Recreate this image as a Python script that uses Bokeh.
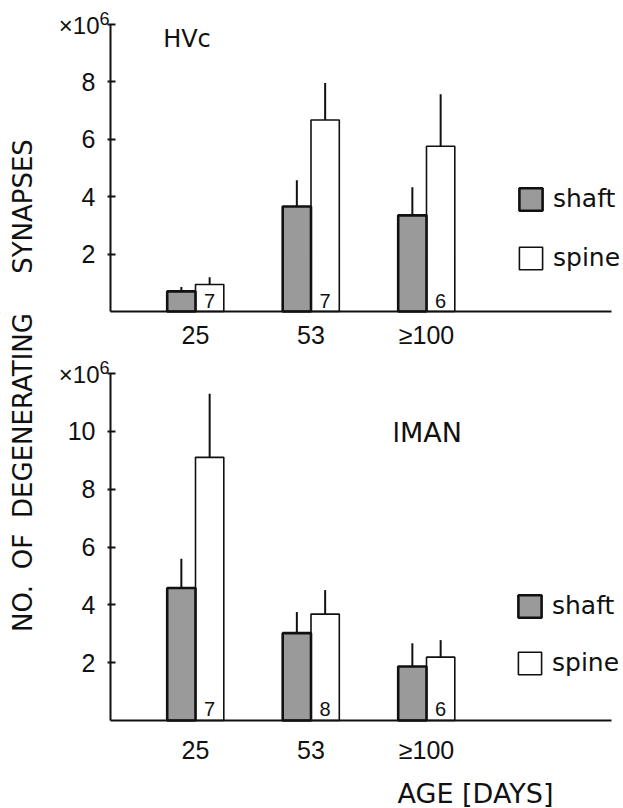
import numpy as np
from bokeh.plotting import figure
from bokeh.layouts import row, column
from bokeh.models import Range1d, FixedTicker, Label, Legend, LegendItem, ColumnDataSource
from bokeh.core.properties import value
from bokeh.embed import file_html
from bokeh.resources import INLINE

# ---------------- data (values in units of 10^6) ----------------
ages = ["25", "53", "≥100"]

hvc_shaft = [0.70, 3.66, 3.35]
hvc_shaft_err = [0.15, 0.91, 0.98]
hvc_spine = [0.94, 6.67, 5.76]
hvc_spine_err = [0.25, 1.29, 1.81]
hvc_n = ["7", "7", "6"]

lman_shaft = [4.58, 3.02, 1.87]
lman_shaft_err = [1.01, 0.73, 0.80]
lman_spine = [9.10, 3.68, 2.19]
lman_spine_err = [2.20, 0.83, 0.59]
lman_n = ["7", "8", "6"]

hvc_yticks = [2, 4, 6, 8, 10]
lman_yticks = [2, 4, 6, 8, 10, 12]

ylabel_words = ["NO.", "OF", "DEGENERATING", "SYNAPSES"]

# ---------------- style / layout ----------------
WORD = "DejaVu Sans"
NUM = "Liberation Sans"
INK = "#111111"
SHAFT_FILL = "#9a9a9a"
BAR_W = 0.245
LEFT_W = 45            # width of the strip holding the rotated y title
PANEL_W = 623 - LEFT_W
PX_X = 115.5           # pixels per category
CAT1_PX = 195          # page x of first category centre
YAX_PX = 110           # page x of the y axis line
XEND_PX = 611          # page x where the x axis line stops

X_START = 1 - (CAT1_PX - LEFT_W) / PX_X
X_END = X_START + PANEL_W / PX_X
YAX = 1 - (CAT1_PX - YAX_PX) / PX_X
AXIS_END = 1 + (XEND_PX - CAT1_PX) / PX_X


def panel(name, shaft, shaft_err, spine, spine_err, n, yticks, ymax,
          top_px, bottom_px, zero_px, ymax_px, x_standoff, name_xy, name_size,
          legend_px, legend_spacing, n_offset):
    height = bottom_px - top_px
    ppu = (zero_px - ymax_px) / ymax
    y_start = -(bottom_px - zero_px) / ppu
    y_end = (zero_px - top_px) / ppu
    p = figure(width=PANEL_W, height=height, x_range=Range1d(X_START, X_END),
               y_range=Range1d(y_start, y_end), output_backend="svg",
               toolbar_location=None, min_border=0)
    p.outline_line_color = None
    p.grid.visible = False

    pos = np.arange(1, len(ages) + 1)
    src = ColumnDataSource(dict(
        xs=pos - BAR_W / 2, xp=pos + BAR_W / 2,
        shaft=shaft, shaft_top=np.add(shaft, shaft_err),
        spine=spine, spine_top=np.add(spine, spine_err), n=n))

    r_spine = p.vbar(x="xp", top="spine", bottom=0, width=BAR_W, source=src,
                     fill_color="white", line_color=INK, line_width=1.6)
    r_shaft = p.vbar(x="xs", top="shaft", bottom=0, width=BAR_W, source=src,
                     fill_color=SHAFT_FILL, line_color=INK, line_width=2.6)
    p.segment(x0="xs", y0="shaft", x1="xs", y1="shaft_top", source=src,
              line_color=INK, line_width=2)
    p.segment(x0="xp", y0="spine", x1="xp", y1="spine_top", source=src,
              line_color=INK, line_width=2)
    p.text(x="xp", y=0, text="n", source=src, text_font=value(NUM),
           text_font_size="20px", text_align="center", text_baseline="bottom",
           y_offset=n_offset, text_color=INK)

    # x axis (drawn at y = 0 inside the frame)
    xa = p.xaxis[0]
    xa.fixed_location = 0
    xa.ticker = FixedTicker(ticks=[float(v) for v in pos])
    xa.major_label_overrides = {float(v): a for v, a in zip(pos, ages)}
    xa.bounds = (YAX, AXIS_END)
    xa.axis_line_width = 2
    xa.axis_line_color = INK
    xa.major_tick_in = 0
    xa.major_tick_out = 0
    xa.minor_tick_line_color = None
    xa.major_label_standoff = x_standoff
    xa.major_label_text_font = NUM
    xa.major_label_text_font_size = "25px"
    xa.major_label_text_color = INK

    # y axis (drawn at x = YAX inside the frame)
    ya = p.yaxis[0]
    ya.fixed_location = YAX
    ya.ticker = FixedTicker(ticks=yticks)
    ya.major_label_overrides = {ymax: ""}
    ya.bounds = (0, ymax)
    ya.axis_line_width = 2
    ya.axis_line_color = INK
    ya.major_tick_in = 5
    ya.major_tick_out = 3
    ya.major_tick_line_width = 2
    ya.major_tick_line_color = INK
    ya.minor_tick_line_color = None
    ya.major_label_standoff = 12
    ya.major_label_text_font = NUM
    ya.major_label_text_font_size = "25px"
    ya.major_label_text_color = INK

    # multiplier  x10^6
    p.add_layout(Label(x=YAX, y=ymax, x_offset=-11, y_offset=-1, text="×10",
                       text_align="right", text_baseline="alphabetic",
                       text_font=NUM, text_font_size="24px", text_color=INK))
    p.add_layout(Label(x=YAX, y=ymax, x_offset=-1, y_offset=6, text="6",
                       text_align="right", text_baseline="alphabetic",
                       text_font=NUM, text_font_size="18px", text_color=INK))
    # region name
    p.add_layout(Label(x=name_xy[0], y=name_xy[1], text=name,
                       text_align="left", text_baseline="alphabetic",
                       text_font=WORD, text_font_size=name_size, text_color=INK))

    legend = Legend(items=[LegendItem(label="shaft", renderers=[r_shaft]),
                           LegendItem(label="spine", renderers=[r_spine])],
                    location=(legend_px[0] - LEFT_W, bottom_px - legend_px[1]),
                    orientation="vertical",
                    spacing=legend_spacing, padding=0, margin=0,
                    border_line_color=None, background_fill_alpha=0,
                    glyph_width=29, glyph_height=28, label_standoff=8,
                    label_height=28, label_text_font=WORD,
                    label_text_font_size="25px", label_text_color=INK)
    p.add_layout(legend)
    return p


top = panel("HVc", hvc_shaft, hvc_shaft_err, hvc_spine, hvc_spine_err, hvc_n,
            hvc_yticks, 10, 0, 353, 311, 24, 9, (0.72, 9.51), "24px",
            (516, 272), 30, -4)
bottom = panel("lMAN", lman_shaft, lman_shaft_err, lman_spine, lman_spine_err,
               lman_n, lman_yticks, 12, 353, 808, 720, 373, 15, (2.705, 9.96),
               "27px", (515, 677), 28, -5)
bottom.add_layout(Label(x=2.749, y=0, y_offset=-73, text="AGE [DAYS]",
                        text_align="left", text_baseline="alphabetic",
                        text_font=WORD, text_font_size="27px", text_color=INK))

# shared rotated y-axis title
lab = figure(width=LEFT_W, height=808, x_range=Range1d(0, LEFT_W),
             y_range=Range1d(808, 0), output_backend="svg",
             toolbar_location=None, min_border=0,
             x_axis_location=None, y_axis_location=None)
lab.outline_line_color = None
lab.grid.visible = False
lab.text(x=[22] * 4, y=[608, 551, 415, 206], text=ylabel_words, angle=np.pi / 2,
         text_align="center", text_baseline="middle", text_font=value(WORD),
         text_font_size="26px", text_color=INK)

layout = row(lab, column(top, bottom))
open("out.html", "w").write(file_html(layout, INLINE))
